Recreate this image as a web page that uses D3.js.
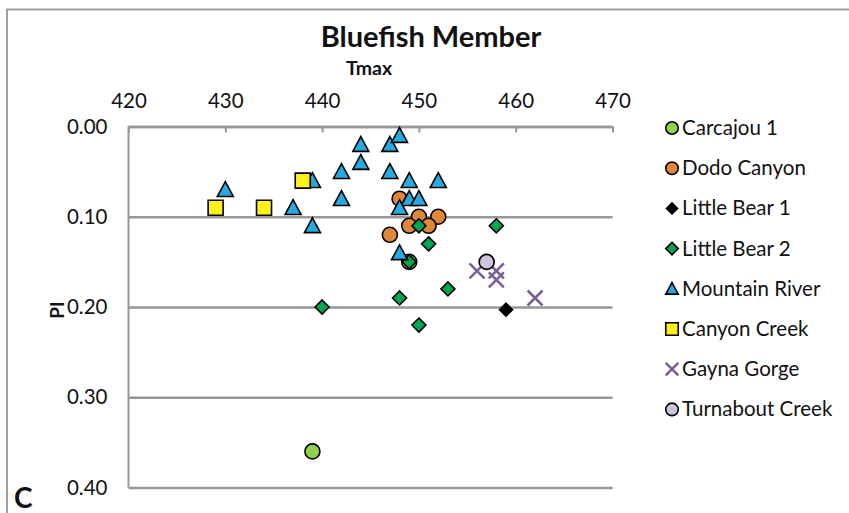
<!DOCTYPE html>
<html>
<head>
<meta charset="utf-8">
<script src="https://cdn.jsdelivr.net/npm/d3@7"></script>
<style>
  html, body { margin: 0; padding: 0; background: #fff; }
  svg { display: block; }
  text { font-family: Lato, "Open Sans", sans-serif; fill: #111; }
</style>
</head>
<body>
<svg id="chart" width="849" height="513"></svg>
<script>
// Tmax (x) and PI (y) for each sample set
const carcajou1     = [[439, 0.36], [449, 0.15]];
const dodoCanyon    = [[448, 0.08], [450, 0.10], [452, 0.10], [449, 0.11], [451, 0.11], [447, 0.12]];
const littleBear1   = [[459, 0.203]];
const littleBear2   = [[450, 0.11], [451, 0.13], [449, 0.15], [453, 0.18], [448, 0.19], [450, 0.22], [440, 0.20], [458, 0.11]];
const mountainRiver = [[430, 0.07], [437, 0.09], [439, 0.11], [439, 0.06], [442, 0.05], [442, 0.08], [444, 0.02],
                       [444, 0.04], [447, 0.02], [448, 0.01], [447, 0.05], [449, 0.06], [452, 0.06], [449, 0.08],
                       [450, 0.08], [448, 0.09], [448, 0.14]];
const canyonCreek   = [[429, 0.09], [434, 0.09], [438, 0.06]];
const gaynaGorge    = [[456, 0.16], [458, 0.16], [458, 0.17], [462, 0.19]];
const turnaboutCreek = [[457, 0.15]];

const seriesNames = ["Carcajou 1", "Dodo Canyon", "Little Bear 1", "Little Bear 2",
                     "Mountain River", "Canyon Creek", "Gayna Gorge", "Turnabout Creek"];
const seriesData = [carcajou1, dodoCanyon, littleBear1, littleBear2,
                    mountainRiver, canyonCreek, gaynaGorge, turnaboutCreek];

const xTicks = [420, 430, 440, 450, 460, 470];
const yTicks = [0.0, 0.1, 0.2, 0.3, 0.4];

const titleText = "Bluefish Member";
const xTitle = "Tmax";
const yTitle = "PI";
const panelLetter = "C";

// marker style per series
const styles = [
  { shape: "circle",   fill: "#92d050", size: 15 },
  { shape: "circle",   fill: "#e0873a", size: 15 },
  { shape: "diamond",  fill: "#000000", size: 13 },
  { shape: "diamond",  fill: "#00a54f", size: 14 },
  { shape: "triangle", fill: "#27aae1", size: 16 },
  { shape: "square",   fill: "#fff21a", size: 15 },
  { shape: "cross",    fill: "#7a5f99", size: 15 },
  { shape: "circle",   fill: "#cfc4de", size: 15 }
];

const svg = d3.select("#chart");
const gridColor = "#979797";
const labelFont = "Lato, 'Open Sans', sans-serif";

// chart frame
svg.append("rect")
  .attr("x", 7).attr("y", 9.5)
  .attr("width", 900).attr("height", 600)
  .attr("fill", "none").attr("stroke", "#a0a0a0").attr("stroke-width", 2);

const x = d3.scaleLinear().domain([420, 470]).range([128.5, 612.5]);
const y = d3.scaleLinear().domain([0, 0.4]).range([126.5, 487.5]);

// horizontal gridlines + y tick labels
const yAxis = svg.append("g")
  .attr("transform", `translate(${x(420)},0)`)
  .call(d3.axisLeft(y).tickValues(yTicks).tickFormat(d3.format(".2f"))
        .tickSizeInner(-(x(470) - x(420))).tickSizeOuter(0).tickPadding(21));
yAxis.select(".domain").remove();
yAxis.selectAll(".tick line").attr("stroke", gridColor).attr("stroke-width", 2.5);
yAxis.selectAll(".tick text")
  .style("font-family", labelFont)
  .style("font-size", "20.5px").attr("fill", "#111");

// left axis line
svg.append("line")
  .attr("x1", x(420)).attr("x2", x(420))
  .attr("y1", y(0)).attr("y2", y(0.4))
  .attr("stroke", gridColor).attr("stroke-width", 2);

// x axis on top
const xAxis = svg.append("g")
  .attr("transform", `translate(0,${y(0)})`)
  .call(d3.axisTop(x).tickValues(xTicks).tickFormat(d3.format("d"))
        .tickSizeInner(-6).tickSizeOuter(0).tickPadding(19));
xAxis.select(".domain").attr("stroke", gridColor).attr("stroke-width", 2.5);
xAxis.selectAll(".tick line").attr("stroke", gridColor).attr("stroke-width", 2);
xAxis.selectAll(".tick text")
  .style("font-family", labelFont)
  .style("font-size", "20.5px").attr("fill", "#111");

// marker path builder
function markerPath(shape, s) {
  const h = s / 2;
  switch (shape) {
    case "circle":
      return d3.symbol(d3.symbolCircle, Math.PI * h * h)();
    case "square":
      return `M${-h},${-h}H${h}V${h}H${-h}Z`;
    case "diamond":
      return `M0,${-h}L${h},0L0,${h}L${-h},0Z`;
    case "triangle":
      return `M0,${-h}L${h},${h * 0.85}L${-h},${h * 0.85}Z`;
    case "cross":
      return `M${-h},${-h}L${h},${h}M${h},${-h}L${-h},${h}`;
  }
}

function styleMarker(sel, st) {
  if (st.shape === "cross") {
    sel.attr("fill", "none").attr("stroke", st.fill).attr("stroke-width", 2.6);
  } else {
    sel.attr("fill", st.fill).attr("stroke", "#000").attr("stroke-width", 1.6)
       .attr("stroke-linejoin", "miter");
  }
}

// points
const pts = svg.append("g");
seriesData.forEach((data, i) => {
  const st = styles[i];
  const sel = pts.append("g").selectAll("path")
    .data(data).enter().append("path")
    .attr("d", markerPath(st.shape, st.size))
    .attr("transform", d => `translate(${x(d[0])},${y(d[1])})`);
  styleMarker(sel, st);
});

// legend
const legend = svg.append("g");
seriesNames.forEach((name, i) => {
  const st = styles[i];
  const cy = 128 + i * 40.2;
  const m = legend.append("path")
    .attr("d", markerPath(st.shape, st.shape === "diamond" && i === 2 ? 11 : 12.5))
    .attr("transform", `translate(672,${cy})`);
  styleMarker(m, st);
  legend.append("text")
    .attr("x", 682).attr("y", cy + 7)
    .style("font-size", "20.5px")
    .text(name);
});

// titles
svg.append("text")
  .attr("x", 431).attr("y", 47)
  .attr("text-anchor", "middle")
  .style("font-size", "29px").style("font-weight", "bold")
  .text(titleText);

svg.append("text")
  .attr("x", 369).attr("y", 75)
  .attr("text-anchor", "middle")
  .style("font-size", "19.5px").style("font-weight", "bold")
  .text(xTitle);

svg.append("text")
  .attr("transform", "translate(64,310) rotate(-90)")
  .attr("text-anchor", "middle")
  .style("font-size", "19px").style("font-weight", "bold")
  .text(yTitle);

svg.append("text")
  .attr("x", 14).attr("y", 508)
  .style("font-size", "28px").style("font-weight", "bold")
  .text(panelLetter);
</script>
</body>
</html>
